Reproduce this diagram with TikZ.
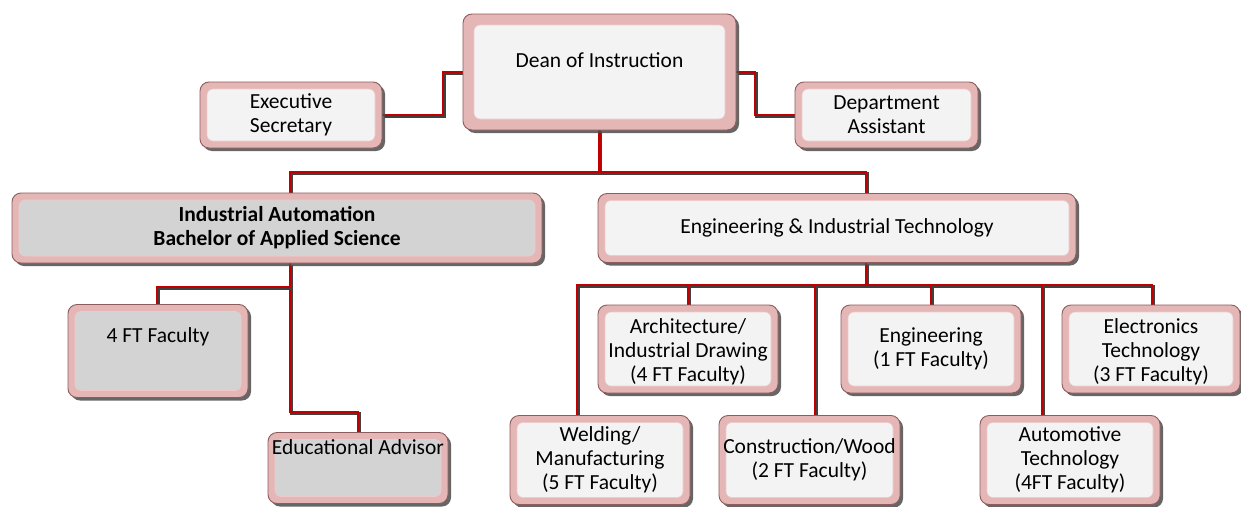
\documentclass[tikz,border=0pt]{standalone}
\usepackage{fontspec}
\setmainfont{Carlito}
\usetikzlibrary{shadows,backgrounds}
\definecolor{framepink}{HTML}{E5B6B6}
\definecolor{frameedge}{HTML}{8E5C5C}
\definecolor{innerline}{HTML}{EECACA}
\definecolor{lightfill}{HTML}{F3F3F3}
\definecolor{grayfill}{HTML}{D3D3D3}
\definecolor{linered}{HTML}{C00000}
\tikzset{
  obox/.style={draw=frameedge, line width=0.9pt, fill=framepink, rounded corners=9pt, inner sep=0pt,
    drop shadow={shadow xshift=3pt, shadow yshift=-3pt, fill=black!70, opacity=0.85}},
  ibox/.style={draw=innerline, line width=0.6pt, rounded corners=6pt, inner sep=0pt},
  otext/.style={align=center, font=\fontsize{21.5}{24}\selectfont, inner sep=0pt},
  conn/.style={draw=linered, line width=2.6pt,
    preaction={draw=black!75, line width=2.6pt, transform canvas={shift={(1.3pt,-1.3pt)}}}},
}
\newcommand\orgbox[8]{%
  \node[obox, minimum width=#3, minimum height=#4] (#1) at (#2) {};
  \node[ibox, fill=#5, minimum width=#3-2*#6, minimum height=#4-2*#6] at (#1.center) {};
  \node[otext] (#1-t) at ([yshift=#7]#1.center) {#8};
}
\begin{document}
\begin{tikzpicture}[x=1pt,y=-1pt]
\useasboundingbox (0,0) rectangle (1241,506);
% boxes
\orgbox{dean}{599.5,72}{273pt}{116pt}{lightfill}{11pt}{12pt}{Dean of Instruction}
\orgbox{exec}{291,115}{182pt}{66pt}{lightfill}{7pt}{0pt}{Executive\\Secretary}
\orgbox{dept}{886.5,115}{183pt}{66pt}{lightfill}{7pt}{0pt}{Department\\Assistant}
\orgbox{ia}{277,228}{530pt}{70pt}{grayfill}{7pt}{0pt}{\bfseries Industrial Automation\\\bfseries Bachelor of Applied Science}
\orgbox{eit}{837,228}{478pt}{69pt}{lightfill}{7pt}{0pt}{Engineering \& Industrial Technology}
\orgbox{fac}{158,351}{180pt}{93pt}{grayfill}{7pt}{14pt}{4 FT Faculty}
\orgbox{edu}{358,468}{180pt}{71pt}{grayfill}{7pt}{21pt}{Educational Advisor}
\orgbox{arch}{688,349}{180pt}{88pt}{lightfill}{7pt}{-3pt}{Architecture/\\Industrial Drawing\\(4 FT Faculty)}
\orgbox{eng}{931,349}{180pt}{88pt}{lightfill}{7pt}{0pt}{Engineering\\(1 FT Faculty)}
\orgbox{elec}{1151,349}{178pt}{88pt}{lightfill}{7pt}{-3pt}{Electronics\\Technology\\(3 FT Faculty)}
\orgbox{weld}{600,460}{180pt}{89pt}{lightfill}{7pt}{0pt}{Welding/\\Manufacturing\\(5 FT Faculty)}
\orgbox{cons}{809.5,460}{181pt}{89pt}{lightfill}{7pt}{0pt}{Construction/Wood\\(2 FT Faculty)}
\orgbox{auto}{1070,460}{180pt}{89pt}{lightfill}{7pt}{0pt}{Automotive\\Technology\\(4FT Faculty)}
% connector coordinates
\coordinate (jl) at (443,0);
\coordinate (jr) at (755,0);
\coordinate (bus1) at (0,172);
\coordinate (bus2) at (0,285);
\coordinate (iabus) at (0,287);
\coordinate (edubus) at (0,412);
\coordinate (ia-in) at ([xshift=13pt]ia.north);
\coordinate (ia-out) at ([xshift=13pt]ia.south);
\coordinate (eit-in) at ([xshift=29pt]eit.north);
\coordinate (eit-out) at ([xshift=29pt]eit.south);
\coordinate (fac-in) at ([xshift=-1pt]fac.north);
\coordinate (weld-in) at ([xshift=-23pt]weld.north);
\coordinate (cons-in) at ([xshift=5.5pt]cons.north);
\coordinate (auto-in) at ([xshift=-28pt]auto.north);
\coordinate (elec-in) at ([xshift=1pt]elec.north);
\begin{pgfonlayer}{background}
\fill[white] (0,0) rectangle (1241,506);
\draw[conn] (exec.east) -- (exec.east -| jl) -- (dean.west -| jl) -- (dean.west);
\draw[conn] (dean.east) -- (dean.east -| jr) -- (dept.west -| jr) -- (dept.west);
\draw[conn] (dean.south) -- (dean.south |- bus1);
\draw[conn] (ia-in) -- (ia-in |- bus1) -- (eit-in |- bus1) -- (eit-in);
\draw[conn] (ia-out) -- (ia-out |- edubus) -- (edubus -| edu.north) -- (edu.north);
\draw[conn] (ia-out |- iabus) -- (iabus -| fac-in) -- (fac-in);
\draw[conn] (eit-out) -- (eit-out |- bus2);
\draw[conn] (weld-in) -- (weld-in |- bus2) -- (bus2 -| elec-in) -- (elec-in);
\draw[conn] (arch.north) -- (arch.north |- bus2);
\draw[conn] (cons-in) -- (cons-in |- bus2);
\draw[conn] (eng.north) -- (eng.north |- bus2);
\draw[conn] (auto-in) -- (auto-in |- bus2);
\end{pgfonlayer}
\end{tikzpicture}
\end{document}
